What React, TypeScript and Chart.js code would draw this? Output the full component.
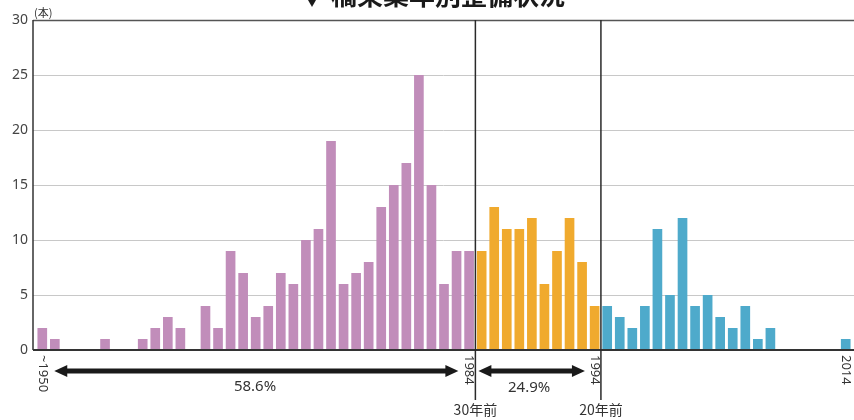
import React, { useEffect, useRef } from "react";
import { Chart, registerables } from "chart.js";

Chart.register(...registerables);

// Construction years shown on the category axis (first bucket covers everything up to 1950)
const firstYear = 1950;
const lastYear = 2014;
const years: string[] = [];
for (let y = firstYear; y <= lastYear; y++) years.push(String(y));

// Bridges built per year, split into three periods
const countsTo1984 = [
  2, 1, 0, 0, 0, 1, 0, 0, 1, 2, 3, 2, 0, 4, 2, 9, 7, 3, 4, 7, 6, 10, 11, 19, 6, 7, 8, 13, 15, 17, 25, 15, 6, 9, 9,
];
const counts1985to1994 = [9, 13, 11, 11, 12, 6, 9, 12, 8, 4];
const countsFrom1995 = [4, 3, 2, 4, 11, 5, 12, 4, 5, 3, 2, 4, 1, 2, 0, 0, 0, 0, 0, 1];

// Labels printed under the axis (rotated)
const axisYearLabels: { year: number; text: string }[] = [
  { year: 1950, text: "~1950" },
  { year: 1984, text: "1984" },
  { year: 1994, text: "1994" },
  { year: 2014, text: "2014" },
];

const yTicks = [0, 5, 10, 15, 20, 25, 30];
const titleText = "▼ 橋梁築年別整備状況";
const unitText = "(本)";
const marker30 = "30年前";
const marker20 = "20年前";

const COLOR_OLD = "#c18dba";
const COLOR_MID = "#f0aa2e";
const COLOR_NEW = "#4eaacb";

const sum = (a: number[]) => a.reduce((s, v) => s + v, 0);

const FONT = "'Noto Sans', 'Noto Sans CJK JP', sans-serif";
const CJK_FONT = "'Noto Sans CJK JP', 'Noto Sans', sans-serif";

export default function App() {
  const canvasRef = useRef<HTMLCanvasElement | null>(null);

  useEffect(() => {
    const canvas = canvasRef.current;
    if (!canvas) return;

    const nOld = countsTo1984.length;
    const nMid = counts1985to1994.length;
    const pad = (arr: number[], before: number) => {
      const out: (number | null)[] = [];
      for (let i = 0; i < before; i++) out.push(null);
      arr.forEach((v) => out.push(v));
      while (out.length < years.length) out.push(null);
      return out;
    };

    const total = sum(countsTo1984) + sum(counts1985to1994) + sum(countsFrom1995);
    const pctOld = ((sum(countsTo1984) / total) * 100).toFixed(1) + "%";
    const pctMid = ((sum(counts1985to1994) / total) * 100).toFixed(1) + "%";

    const axisInset = 3; // y-axis line sits a little left of the first category

    const grid = {
      id: "gridUnder",
      beforeDatasetsDraw(chart: any) {
        const ctx = chart.ctx as CanvasRenderingContext2D;
        const area = chart.chartArea;
        const ys = chart.scales.y;
        ctx.save();
        yTicks.forEach((v) => {
          if (v === 0) return;
          const y = Math.round(ys.getPixelForValue(v)) + 0.5;
          ctx.strokeStyle = v === 30 ? "#555" : "#c8c8c8";
          ctx.lineWidth = v === 30 ? 1.5 : 1;
          ctx.beginPath();
          ctx.moveTo(area.left - axisInset, y);
          ctx.lineTo(area.right + 2, y);
          ctx.stroke();
        });
        ctx.restore();
      },
    };

    const overlay = {
      id: "overlay",
      afterDraw(chart: any) {
        const ctx = chart.ctx as CanvasRenderingContext2D;
        const area = chart.chartArea;
        const xs = chart.scales.x;
        const step = xs.getPixelForValue(1) - xs.getPixelForValue(0);
        const axisX = area.left - axisInset;
        ctx.save();

        // title (partly above the visible area)
        ctx.fillStyle = "#1a1a1a";
        ctx.font = `bold 26px ${CJK_FONT}`;
        ctx.textAlign = "center";
        ctx.textBaseline = "alphabetic";
        ctx.fillText(titleText, 432, 5);

        // unit
        ctx.font = `11px ${CJK_FONT}`;
        ctx.fillStyle = "#333";
        ctx.textAlign = "left";
        ctx.textBaseline = "bottom";
        ctx.fillText(unitText, axisX + 1, area.top - 2);

        // axes lines
        ctx.strokeStyle = "#333";
        ctx.lineWidth = 1.5;
        ctx.beginPath();
        ctx.moveTo(axisX, area.top);
        ctx.lineTo(axisX, area.bottom);
        ctx.stroke();
        ctx.lineWidth = 2;
        ctx.beginPath();
        ctx.moveTo(axisX, area.bottom);
        ctx.lineTo(area.right + 2, area.bottom);
        ctx.stroke();

        // period dividers
        const div1 = xs.getPixelForValue(nOld - 1) + step / 2;
        const div2 = xs.getPixelForValue(nOld + nMid - 1) + step / 2;
        ctx.lineWidth = 1.5;
        ctx.strokeStyle = "#2a2a2a";
        [div1, div2].forEach((x) => {
          ctx.beginPath();
          ctx.moveTo(x, area.top);
          ctx.lineTo(x, area.bottom + 50);
          ctx.stroke();
        });

        // rotated year labels
        ctx.fillStyle = "#333";
        ctx.font = `13px ${FONT}`;
        axisYearLabels.forEach((l) => {
          const x = xs.getPixelForValue(l.year - firstYear);
          ctx.save();
          ctx.translate(x, area.bottom + 5);
          ctx.rotate(Math.PI / 2);
          ctx.textAlign = "left";
          ctx.textBaseline = "middle";
          ctx.fillText(l.text, 0, 0);
          ctx.restore();
        });

        // double-headed arrows
        const arrow = (x1: number, x2: number, y: number) => {
          const head = 13;
          const hh = 6;
          ctx.fillStyle = "#1a1a1a";
          ctx.strokeStyle = "#1a1a1a";
          ctx.lineWidth = 5;
          ctx.beginPath();
          ctx.moveTo(x1 + head - 2, y);
          ctx.lineTo(x2 - head + 2, y);
          ctx.stroke();
          ctx.beginPath();
          ctx.moveTo(x1, y);
          ctx.lineTo(x1 + head, y - hh);
          ctx.lineTo(x1 + head, y + hh);
          ctx.closePath();
          ctx.fill();
          ctx.beginPath();
          ctx.moveTo(x2, y);
          ctx.lineTo(x2 - head, y - hh);
          ctx.lineTo(x2 - head, y + hh);
          ctx.closePath();
          ctx.fill();
        };
        const arrowY = area.bottom + 21;
        arrow(xs.getPixelForValue(0) + 12, div1 - 17, arrowY);
        arrow(div1 + 3, div2 - 16, arrowY);

        // shares
        ctx.fillStyle = "#333";
        ctx.font = `15px ${FONT}`;
        ctx.textAlign = "center";
        ctx.textBaseline = "middle";
        ctx.fillText(pctOld, 255, area.bottom + 37);
        ctx.fillText(pctMid, (div1 + div2) / 2 - 9, area.bottom + 38);

        // markers under dividers
        ctx.font = `14px ${CJK_FONT}`;
        ctx.fillText(marker30, div1, area.bottom + 60);
        ctx.fillText(marker20, div2, area.bottom + 60);

        ctx.restore();
      },
    };

    const common = { grouped: false, barPercentage: 0.77, categoryPercentage: 1 };

    const chart = new Chart(canvas, {
      type: "bar",
      data: {
        labels: years,
        datasets: [
          { label: "~1984", data: pad(countsTo1984, 0), backgroundColor: COLOR_OLD, ...common },
          { label: "1985-1994", data: pad(counts1985to1994, nOld), backgroundColor: COLOR_MID, ...common },
          { label: "1995-", data: pad(countsFrom1995, nOld + nMid), backgroundColor: COLOR_NEW, ...common },
        ] as any,
      },
      options: {
        responsive: false,
        animation: false,
        layout: { padding: { top: 20, right: 2, left: 0, bottom: 0 } },
        plugins: { legend: { display: false }, tooltip: { enabled: false }, title: { display: false } },
        scales: {
          x: {
            grid: { display: false },
            border: { display: false },
            ticks: { display: false },
            afterFit: (scale: any) => {
              scale.height = 70;
            },
          },
          y: {
            min: 0,
            max: 30,
            afterBuildTicks: (scale: any) => {
              scale.ticks = yTicks.map((v) => ({ value: v }));
            },
            grid: { display: false, drawTicks: false },
            border: { display: false },
            ticks: {
              padding: 8,
              color: "#444",
              font: { size: 14, family: FONT },
            },
            afterFit: (scale: any) => {
              scale.width = 36;
            },
          },
        },
      },
      plugins: [grid, overlay],
    });

    return () => chart.destroy();
  }, []);

  return (
    <div style={{ position: "fixed", left: 0, top: 0, width: 854, height: 420, background: "#fff" }}>
      <canvas ref={canvasRef} width={854} height={420} style={{ display: "block" }} />
    </div>
  );
}
